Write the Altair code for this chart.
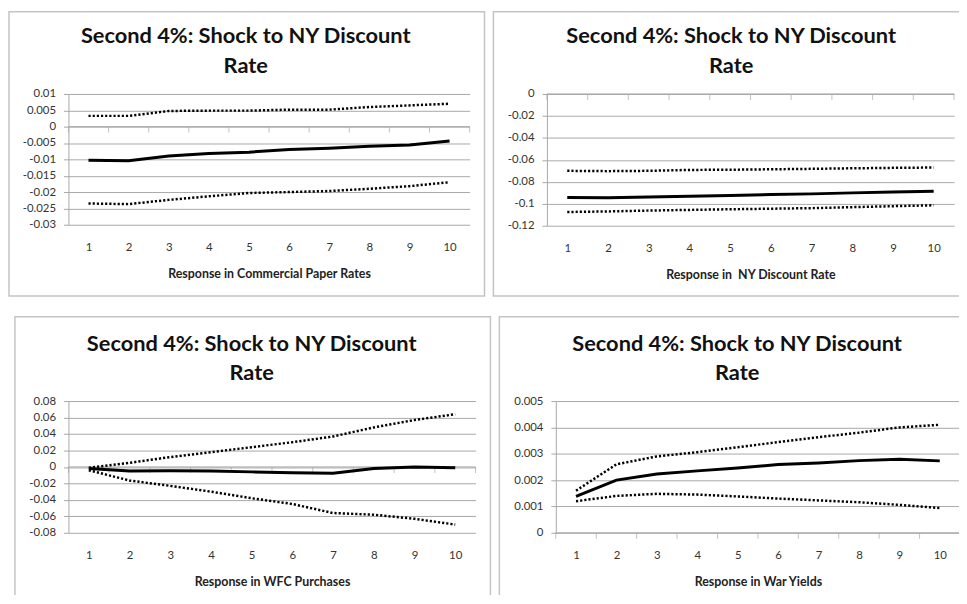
import altair as alt
import pandas as pd

steps = list(range(1, 11))

title_text = "Second 4%: Shock to NY Discount\nRate"

cp_upper = [0.0033, 0.0033, 0.0048, 0.0049, 0.0049, 0.0052, 0.0052, 0.0060, 0.0065, 0.0070]
cp_mid = [-0.0103, -0.0104, -0.0090, -0.0082, -0.0078, -0.0070, -0.0066, -0.0060, -0.0056, -0.0044]
cp_lower = [-0.0235, -0.0237, -0.0224, -0.0213, -0.0203, -0.0200, -0.0197, -0.0190, -0.0182, -0.0170]
cp_ticks = [0.01, 0.005, 0, -0.005, -0.01, -0.015, -0.02, -0.025, -0.03]

ny_upper = [-0.0700, -0.0703, -0.0700, -0.0692, -0.0690, -0.0686, -0.0682, -0.0677, -0.0673, -0.0670]
ny_mid = [-0.0942, -0.0945, -0.0938, -0.0931, -0.0925, -0.0916, -0.0910, -0.0901, -0.0892, -0.0886]
ny_lower = [-0.1075, -0.1070, -0.1062, -0.1056, -0.1050, -0.1045, -0.1040, -0.1031, -0.1022, -0.1014]
ny_ticks = [0, -0.02, -0.04, -0.06, -0.08, -0.1, -0.12]

wfc_upper = [-0.001, 0.005, 0.012, 0.018, 0.024, 0.030, 0.037, 0.048, 0.057, 0.064]
wfc_mid = [-0.002, -0.005, -0.0045, -0.005, -0.006, -0.007, -0.0077, -0.002, 0.0, -0.001]
wfc_lower = [-0.004, -0.0165, -0.023, -0.030, -0.038, -0.045, -0.056, -0.058, -0.063, -0.070]
wfc_ticks = [0.08, 0.06, 0.04, 0.02, 0, -0.02, -0.04, -0.06, -0.08]

war_upper = [0.0016, 0.0026, 0.0029, 0.00306, 0.00325, 0.00344, 0.00363, 0.0038, 0.0040, 0.0041]
war_mid = [0.00138, 0.0020, 0.00223, 0.00235, 0.00246, 0.00259, 0.00265, 0.00274, 0.00279, 0.00273]
war_lower = [0.0012, 0.0014, 0.00148, 0.00145, 0.00138, 0.0013, 0.00123, 0.00116, 0.00106, 0.00094]
war_ticks = [0.005, 0.004, 0.003, 0.002, 0.001, 0]

x_titles = [
    "Response in Commercial Paper Rates",
    "Response in\u00a0 NY Discount Rate",
    "Response in WFC Purchases",
    "Response in War Yields",
]

GRID = "#a8a8a8"
FRAME = "#c4c4c4"
FONT = "Lato"


def panel(upper, mid, lower, ticks, xtitle, w, h, frame, title_x):
    n = len(steps)
    df = pd.DataFrame({
        "step": steps * 3,
        "value": upper + mid + lower,
        "series": ["upper"] * n + ["mid"] * n + ["lower"] * n,
    })
    edges = [s - 0.5 for s in steps] + [steps[-1] + 0.5]
    zero_df = pd.DataFrame({"step": edges, "value": [0] * len(edges), "series": ["zero"] * len(edges)})

    xs = alt.X(
        "step:Q",
        scale=alt.Scale(domain=[edges[0], edges[-1]], nice=False, zero=False),
        axis=alt.Axis(values=steps, format="d", title=xtitle, grid=False, domain=False,
                      ticks=False, labelPadding=17, titlePadding=15,
                      labelFontSize=11.5, labelColor="#333", labelFont=FONT,
                      titleFontSize=12.5, titleFont=FONT, titleFontWeight="bold",
                      titleColor="#222"),
    )
    ys = alt.Y(
        "value:Q",
        scale=alt.Scale(domain=[min(ticks), max(ticks)], nice=False, zero=False),
        axis=alt.Axis(values=ticks, labelExpr="datum.value + ''", title=None, grid=True,
                      gridColor=GRID, domainColor=GRID, tickColor=GRID, tickSize=5,
                      labelPadding=8, labelFontSize=11.5, labelColor="#333", labelFont=FONT),
    )

    one = pd.DataFrame({"k": [0]})
    fx1, fx2, fy1, fy2 = frame
    border = alt.Chart(one).mark_rect(fillOpacity=0, stroke=FRAME, strokeWidth=1.5).encode(
        x=alt.value(fx1), x2=alt.value(fx2), y=alt.value(fy1), y2=alt.value(fy2)
    )
    title = alt.Chart(one).mark_text(
        text=title_text, lineBreak="\n", lineHeight=30, fontSize=22, fontWeight="bold",
        font=FONT, color="#111", align="center", baseline="middle"
    ).encode(x=alt.value(title_x), y=alt.value(-58))

    zline = alt.Chart(zero_df).mark_line(color=GRID, strokeWidth=1).encode(x=xs, y=ys)
    zticks = alt.Chart(zero_df).mark_tick(orient="vertical", size=6, thickness=1, yOffset=3,
                                          color=GRID).encode(x=xs, y=ys)

    base = alt.Chart(df)
    bands = base.transform_filter("datum.series != 'mid'").mark_line(
        color="black", strokeWidth=2.5, strokeDash=[2.2, 2]
    ).encode(x=xs, y=ys, detail="series:N")
    mline = base.transform_filter("datum.series == 'mid'").mark_line(
        color="black", strokeWidth=3
    ).encode(x=xs, y=ys)

    return alt.layer(border, title, zline, zticks, bands, mline).properties(width=w, height=h)


p1 = panel(cp_upper, cp_mid, cp_lower, cp_ticks, x_titles[0], 405, 132, (-60, 420, -83, 204), 179)
p2 = panel(ny_upper, ny_mid, ny_lower, ny_ticks, x_titles[1], 411, 133, (-54, 417, -83, 204), 186)
p3 = panel(wfc_upper, wfc_mid, wfc_lower, wfc_ticks, x_titles[2], 411, 133, (-54, 426, -85, 203), 185)
p4 = panel(war_upper, war_mid, war_lower, war_ticks, x_titles[3], 408, 133, (-57, 415, -85, 203), 183)

row1 = alt.hconcat(p1, p2, spacing=7)
row2 = alt.hconcat(p3, p4, spacing=7)

chart = alt.vconcat(row1, row2, spacing=19).properties(
    padding={"top": 0, "left": 0, "right": -9, "bottom": -11}
).configure_view(strokeWidth=0)

chart.save("out.html", embed_options={"renderer": "svg", "actions": False})
